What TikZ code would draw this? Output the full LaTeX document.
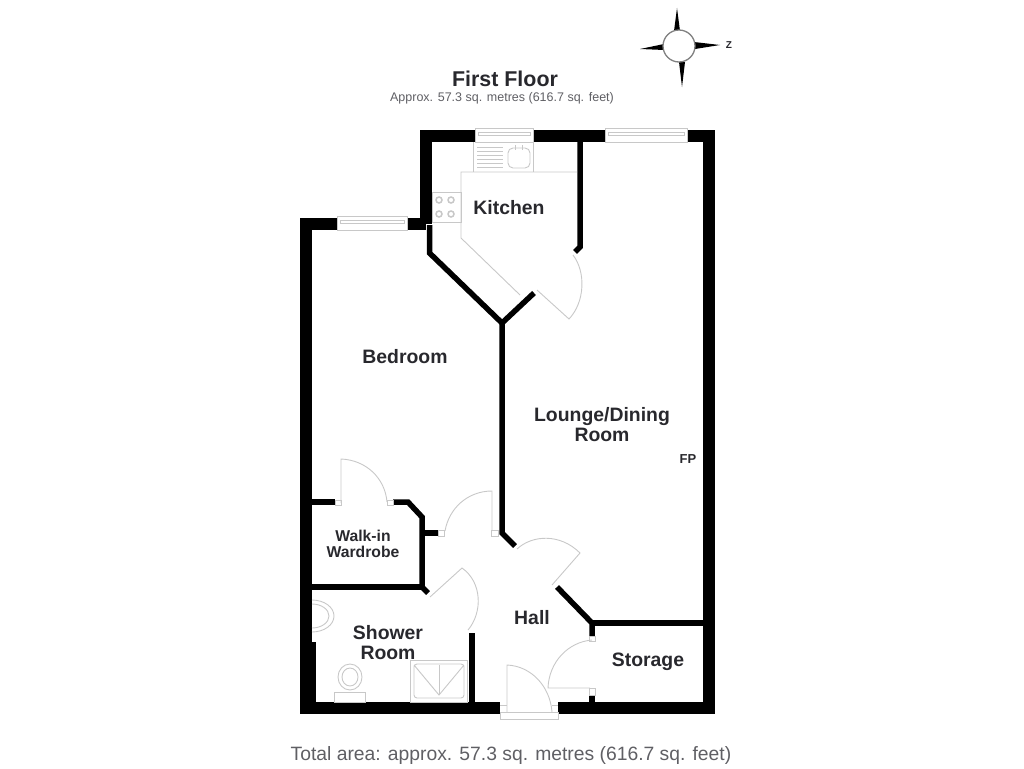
\documentclass[tikz,border=0pt]{standalone}
\usepackage{fontspec}
\setmainfont{Liberation Sans}
\usetikzlibrary{calc}
\definecolor{fitting}{RGB}{200, 200, 200}
\definecolor{inktext}{RGB}{40, 40, 45}
\definecolor{smalltext}{RGB}{95, 95, 100}
\tikzset{
  wall/.style={line width=12pt, color=black},
  partition/.style={line width=5.5pt, color=black},
  fitting/.style={line width=0.9pt, color=fitting},
  roomlabel/.style={align=center, color=inktext, font=\fontsize{19.4}{20}\selectfont\bfseries},
}

\begin{document}
\begin{tikzpicture}[x=1pt, y=-1pt]
  \useasboundingbox (0, 0) rectangle (1024, 768);

  % outer walls
  \draw[wall] (306, 713) -- (306, 224) -- (337, 224);
  \draw[wall] (407, 224) -- (426, 224);
  \draw[wall] (426, 224) -- (426, 136) -- (475, 136);
  \draw[wall] (533, 136) -- (605, 136);
  \draw[wall] (687, 136) -- (709, 136) -- (709, 713);
  \draw[wall] (300, 707.5) -- (500, 707.5);
  \draw[wall] (558, 707.5) -- (715, 707.5);
  \fill[black] (300, 642) rectangle (316, 702);

  % inner walls
  \draw[partition] (429.5, 225) -- (429.5, 253) -- (502, 323) -- (534, 293);
  \draw[partition] (502, 323) -- (502, 533) -- (515, 546);
  \draw[partition] (580, 142) -- (580, 247) -- (575, 252);
  \draw[partition] (311, 502) -- (335, 502);
  \draw[partition] (393, 502) -- (408, 502) -- (422, 517) -- (422, 587) -- (428, 593);
  \draw[partition] (422, 533) -- (438, 533);
  \draw[partition] (311, 587) -- (422, 587);
  \draw[partition] (472, 633) -- (472, 702);
  \draw[partition] (557, 587) -- (592, 623) -- (592, 636);
  \draw[partition] (592, 623) -- (703, 623);
  \draw[partition] (592, 695) -- (592, 702);

  % windows
  \foreach \xa/\xb/\ya in {475/533/128, 605/687/128, 337/407/216}{
    \draw[fitting] (\xa, \ya) rectangle (\xb, \ya+14);
    \draw[fitting] (\xa+3, \ya+4) rectangle (\xb-3, \ya+7);
  }

  % doors
  \draw[fitting] (335, 500) rectangle (341, 505);
  \draw[fitting] (341, 503) -- (341, 459) .. controls (366, 460) and (385, 478) .. (387, 502);
  \draw[fitting] (387, 500) rectangle (393, 505);
  \draw[fitting] (438, 530) rectangle (444, 536);
  \draw[fitting] (445, 531) .. controls (449, 508) and (468, 491) .. (492, 491) -- (492, 531);
  \draw[fitting] (491, 530) rectangle (498, 536);
  \draw[fitting] (517, 549) .. controls (532, 535) and (560, 533) .. (580, 553) -- (552, 585);
  \draw[fitting] (430, 597) -- (462, 568) .. controls (482, 582) and (483, 612) .. (468, 630);
  \draw[fitting] (573, 255) .. controls (586, 272) and (585, 302) .. (569, 319) -- (537, 290);
  \draw[fitting] (592, 640) .. controls (568, 642) and (549, 662) .. (548, 688) -- (590, 688);
  \draw[fitting] (589, 688) rectangle (595, 695);
  \draw[fitting] (589, 636) rectangle (595, 641);
  \draw[fitting] (507, 712) -- (507, 665) .. controls (531, 666) and (550, 686) .. (552, 712);
  \draw[fitting] (500, 712) rectangle (558, 719);
  \draw[fitting] (500, 705) -- (507, 705);
  \draw[fitting] (552, 705) -- (558, 705);

  % kitchen units
  \draw[fitting] (473, 142) -- (473, 172);
  \draw[fitting] (533, 142) -- (533, 172);
  \draw[fitting] (520, 295) -- (461, 238) -- (461, 172) -- (577, 172);
  \draw[fitting] (432, 192) rectangle (461, 222);
  \foreach \ypos in {200, 214}{
    \foreach \xpos in {439, 451}{
      \draw[fitting, line width=1.5pt] (\xpos, \ypos) circle (3pt);
    }
  }
  \foreach \ypos in {147, 151, 155, 159, 163, 167}{
    \draw[fitting] (477, \ypos) -- (503, \ypos);
  }
  \draw[fitting, rounded corners=5pt] (508, 148) rectangle (530, 168);
  \draw[fitting] (515, 145) -- (515, 150);
  \draw[fitting] (522, 145) -- (522, 150);

  % bathroom fittings
  \draw[fitting] (312, 604) arc (90:-90:17pt and 12pt);
  \draw[fitting] (312, 600) arc (90:-90:22pt and 16pt);
  \draw[fitting] (350, 677) ellipse (12pt and 13pt);
  \draw[fitting] (350, 677) ellipse (8pt and 9pt);
  \draw[fitting] (334, 692) rectangle (365, 702);
  \draw[fitting] (410, 660) rectangle (467, 702);
  \draw[fitting, rounded corners=3pt] (414, 664) rectangle (464, 698);
  \draw[fitting] (414, 665) -- (439, 695) -- (464, 665);
  \draw[fitting] (439, 665) -- (439, 695);

  % compass
  \fill[black] (677, 8) -- (680, 31) -- (674, 31) -- cycle;
  \fill[black] (682, 87) -- (679, 62) -- (685, 62) -- cycle;
  \fill[black] (640, 49) -- (664, 44) -- (664, 50) -- cycle;
  \fill[black] (720, 45) -- (694, 42) -- (695, 49) -- cycle;
  \draw[gray, fill=white, line width=1.3pt] (679, 46) circle (16pt);

  % labels
  \node[font=\fontsize{10}{12}\selectfont\bfseries, color=inktext] (north) at (729, 45) {Z};
  \node[color=inktext, font=\fontsize{21.4}{24}\selectfont\bfseries] (title) at (505, 79) {First Floor};
  \node[color=smalltext, font=\fontsize{12.5}{14}\selectfont] (subtitle) at (502, 98) {Approx. 57.3 sq. metres (616.7 sq. feet)};
  \node[color=smalltext, font=\fontsize{19.3}{22}\selectfont] (total) at (511, 755) {Total area: approx. 57.3 sq. metres (616.7 sq. feet)};
  \node[roomlabel] (kitchen) at (509, 208) {Kitchen};
  \node[roomlabel] (bedroom) at (405, 357) {Bedroom};
  \node[roomlabel] (lounge) at (602, 425) {Lounge/Dining\\Room};
  \node[color=inktext, font=\fontsize{13}{15}\selectfont\bfseries] (fp) at (688, 459) {FP};
  \node[align=center, color=inktext, font=\fontsize{15.7}{16}\selectfont\bfseries] (wardrobe) at (363, 544) {Walk-in\\Wardrobe};
  \node[roomlabel] (shower) at (388, 643) {Shower\\Room};
  \node[roomlabel] (hall) at (532, 618) {Hall};
  \node[roomlabel] (storage) at (648, 662) {Storage};
\end{tikzpicture}
\end{document}
